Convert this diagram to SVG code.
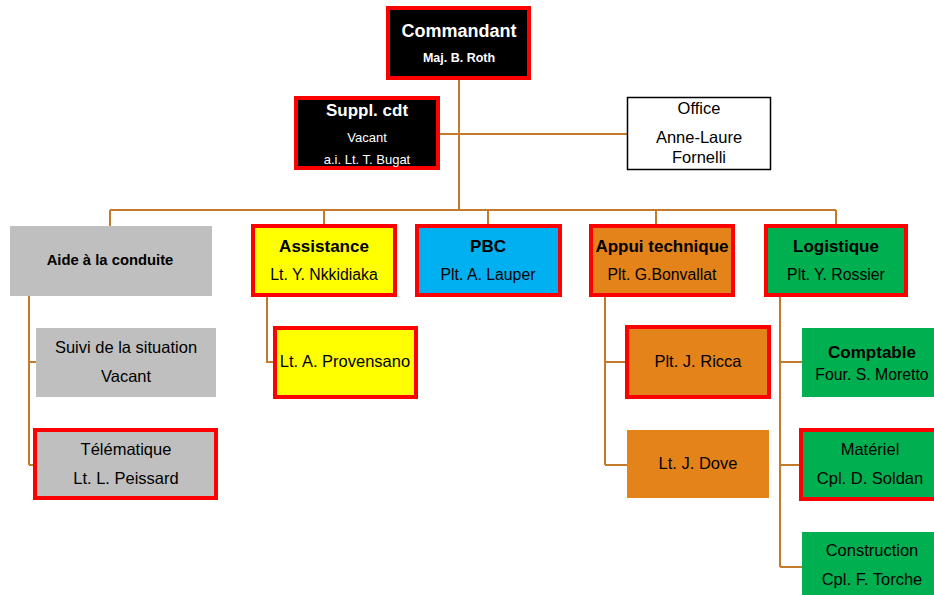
<svg xmlns="http://www.w3.org/2000/svg" width="934" height="595" viewBox="0 0 934 595">
<style>
text{font-family:"Liberation Sans",Arial,sans-serif;text-anchor:middle;fill:#000}
.w{fill:#fff}
.b{font-weight:bold}
.t{font-size:16.5px}
.s{font-size:15.8px}
.xs{font-size:13px}
.h{font-size:17px;font-weight:bold}
.red{stroke:#FF0000;stroke-width:4}
.gray{fill:#BFBFBF}
.yel{fill:#FFFF00}
.blue{fill:#00B0F0}
.ora{fill:#E4831A}
.grn{fill:#00B050}
.conn{fill:none;stroke:#C47A2C;stroke-width:2}
</style>
<rect width="934" height="595" fill="#fff"/>
<g id="connectors" class="conn">
<path d="M459,80 V210"/>
<path d="M440,134 H627"/>
<path d="M110,210 H836"/>
<path d="M110,210 V226 M324,210 V224 M488,210 V224 M656,210 V224 M836,210 V224"/>
<path d="M29,296 V465 M29,362 H36 M29,465 H33"/>
<path d="M267,297 V362 H273"/>
<path d="M605,297 V465 M605,362 H625 M605,465 H627"/>
<path d="M780,297 V567 M780,362 H802 M780,465 H799 M780,567 H802"/>
</g>
<g id="commandant">
<rect x="388" y="8" width="141" height="70" fill="#000" class="red"/>
<text x="459" y="37" class="w b" font-size="18">Commandant</text>
<text x="459" y="62" class="w b" font-size="12.5">Maj. B. Roth</text>
</g>
<g id="suppl">
<rect x="296" y="98" width="142" height="70" fill="#000" class="red"/>
<text x="367" y="116" class="w b" font-size="17">Suppl. cdt</text>
<text x="367" y="142" class="w xs">Vacant</text>
<text x="367" y="164" class="w xs">a.i. Lt. T. Bugat</text>
</g>
<g id="office">
<rect x="627.5" y="97.5" width="143" height="72" fill="#fff" stroke="#000" stroke-width="1.5"/>
<text x="699" y="114" class="t">Office</text>
<text x="699" y="143" class="t">Anne-Laure</text>
<text x="699" y="163" class="t">Fornelli</text>
</g>
<g id="aide">
<rect x="10" y="226" width="202" height="70" class="gray"/>
<text x="110" y="265" class="b" font-size="14.8">Aide à la conduite</text>
</g>
<g id="assistance">
<rect x="253" y="226" width="142" height="69" class="yel red"/>
<text x="324" y="252" class="h">Assistance</text>
<text x="324" y="280" class="s">Lt. Y. Nkkidiaka</text>
</g>
<g id="pbc">
<rect x="417" y="226" width="143" height="69" class="blue red"/>
<text x="488" y="252" class="h">PBC</text>
<text x="488" y="280" class="s">Plt. A. Lauper</text>
</g>
<g id="appui">
<rect x="591" y="226" width="142" height="69" class="ora red"/>
<text x="662" y="252" class="h">Appui technique</text>
<text x="662" y="280" class="s">Plt. G.Bonvallat</text>
</g>
<g id="logistique">
<rect x="766" y="226" width="140" height="69" class="grn red"/>
<text x="836" y="252" class="h">Logistique</text>
<text x="836" y="280" class="s">Plt. Y. Rossier</text>
</g>
<g id="suivi">
<rect x="36" y="328" width="180" height="69" class="gray"/>
<text x="126" y="353" class="t">Suivi de la situation</text>
<text x="126" y="382" class="t">Vacant</text>
</g>
<g id="telematique">
<rect x="35" y="430" width="181" height="68" class="gray red"/>
<text x="126" y="455" class="t">Télématique</text>
<text x="126" y="484" class="t">Lt. L. Peissard</text>
</g>
<g id="provensano">
<rect x="275" y="328" width="141" height="69" class="yel red"/>
<text x="345" y="367" class="t">Lt. A. Provensano</text>
</g>
<g id="ricca">
<rect x="627" y="327" width="142" height="70" class="ora red"/>
<text x="698" y="367" class="t">Plt. J. Ricca</text>
</g>
<g id="dove">
<rect x="627" y="430" width="142" height="68" class="ora"/>
<text x="698" y="469" class="t">Lt. J. Dove</text>
</g>
<g id="comptable">
<rect x="802" y="328" width="132" height="69" class="grn"/>
<text x="872" y="358" class="h" font-size="17.5">Comptable</text>
<text x="872" y="380" class="s">Four. S. Moretto</text>
</g>
<g id="materiel">
<rect x="801" y="430" width="135" height="69" class="grn red"/>
<text x="870" y="455" class="t">Matériel</text>
<text x="870" y="484" class="t">Cpl. D. Soldan</text>
</g>
<g id="construction">
<rect x="802" y="532" width="132" height="63" class="grn"/>
<text x="872" y="556" class="t">Construction</text>
<text x="872" y="585" class="t">Cpl. F. Torche</text>
</g>
</svg>
